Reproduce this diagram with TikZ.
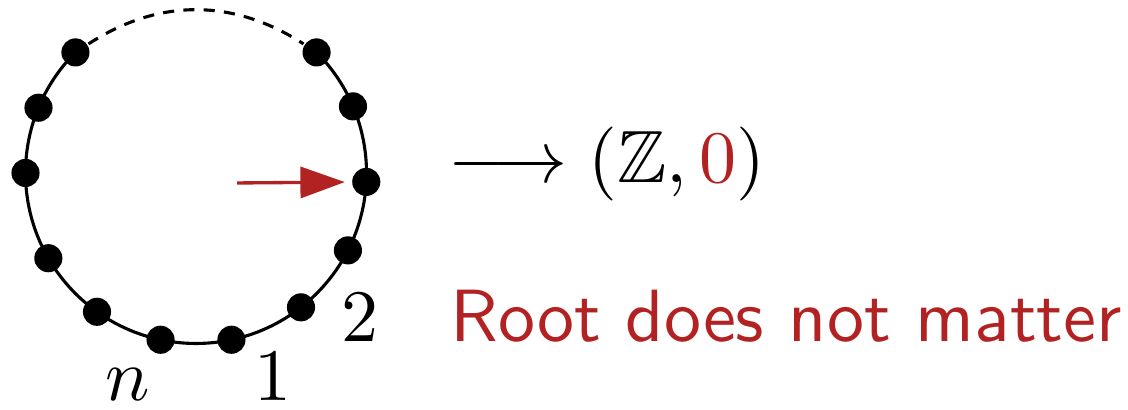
\documentclass[tikz,border=0pt]{standalone}
\usepackage{amssymb}
\usepackage{tikz}
\usetikzlibrary{arrows.meta}
\definecolor{RootRed}{HTML}{B22222}

\begin{document}
\begin{tikzpicture}[x=0.1351pt,y=0.1351pt]
    \tikzset{v/.style={circle,fill=black,inner sep=0pt,minimum size=3.8pt},
      ring/.style={line width=0.42pt},
      push/.style={RootRed,line width=0.45pt,shorten >=0.8pt,
        -{Triangle[length=6pt,width=4.2pt]}},
      lbl/.style={inner sep=0pt,anchor=base}}
    \useasboundingbox (0,0) rectangle (1128,410);
    \coordinate (o) at (196,237);
    % vertices of the cycle
    \foreach \n/\a in {0/-3,1/23,2/45,3/135,4/157.5,5/180,6/210,7/234.5,8/258,9/282,10/308,11/333}
      \node[v] (v\n) at ([shift={(\a:170.5)}]o) {};
    \draw[ring] (v2.center) arc[start angle=45,end angle=-225,radius=170.5];
    \draw[ring,dash pattern=on 1.5pt off 1.25pt] (v3) to[bend left=33] (v2);
    % root marker
    \coordinate (tail) at (237,227);
    \draw[push] (tail) -- (v0);
    \node[lbl] (ln) at (128,9) {$n$};
    \node[lbl] (l1) at (273,9) {$1$};
    \node[lbl] (l2) at (360,68) {$2$};
    \node[inner sep=0pt,anchor=base west] (map) at (447,227)
      {$\longrightarrow (\mathbb{Z}, {\color{RootRed}0})$};
    \node[inner sep=0pt,anchor=base west,text=RootRed,font=\sffamily] (note) at (449,68)
      {Root does not matter};
  \end{tikzpicture}
\end{document}
